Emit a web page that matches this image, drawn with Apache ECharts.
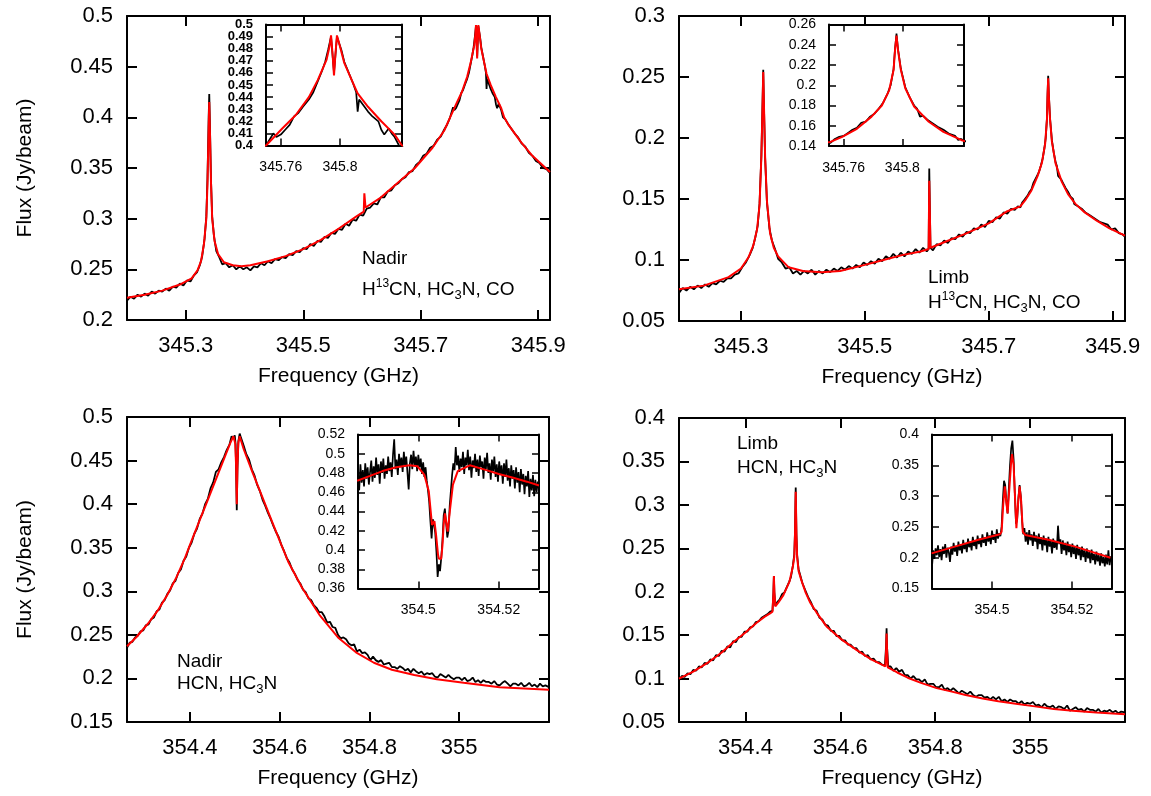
<!DOCTYPE html>
<html><head><meta charset="utf-8">
<script src="https://cdn.jsdelivr.net/npm/echarts@6/dist/echarts.min.js"></script>
<style>html,body{margin:0;padding:0;background:#fff}#c{width:1151px;height:796px}</style>
</head><body><div id="c"></div>
<script>
// ---------- tick positions ----------
const coTicks = [345.3, 345.5, 345.7, 345.9];
const coInsetTicks = [345.76, 345.8];
const hcnTicks = [354.4, 354.6, 354.8, 355];
const hcnInsetTicks = [354.5, 354.52];
const coInsetYLabelsA = [0.4, 0.42, 0.44, 0.46, 0.48, 0.5];
const coInsetYLabelsB = [0.41, 0.43, 0.45, 0.47, 0.49];

// ---------- Nadir, H13CN / HC3N / CO (frequency GHz, flux Jy/beam) ----------
const coNadirFit = [[345.200,0.222],[345.230,0.225],[345.260,0.229],[345.290,0.235],[345.310,0.241],[345.320,0.249],[345.326,0.258],[345.331,0.275],[345.335,0.300],[345.337,0.335],[345.339,0.390],[345.340,0.415],[345.341,0.390],[345.343,0.335],[345.345,0.300],[345.349,0.278],[345.355,0.265],[345.365,0.257],[345.380,0.254],[345.395,0.253],[345.410,0.254],[345.440,0.258],[345.470,0.263],[345.500,0.270],[345.530,0.279],[345.560,0.290],[345.590,0.302],[345.603,0.307],[345.604,0.325],[345.606,0.311],[345.630,0.320],[345.660,0.335],[345.690,0.350],[345.720,0.370],[345.740,0.387],[345.750,0.400],[345.761,0.414],[345.770,0.425],[345.779,0.440],[345.785,0.454],[345.791,0.471],[345.793,0.482],[345.794,0.491],[345.795,0.476],[345.796,0.458],[345.797,0.476],[345.798,0.491],[345.800,0.482],[345.803,0.468],[345.808,0.454],[345.812,0.443],[345.819,0.432],[345.828,0.420],[345.837,0.409],[345.842,0.400],[345.850,0.392],[345.870,0.376],[345.890,0.362],[345.920,0.346]];
const coNadirObs = [[345.200,0.219],[345.206,0.223],[345.212,0.221],[345.218,0.225],[345.224,0.223],[345.230,0.226],[345.236,0.224],[345.242,0.228],[345.248,0.226],[345.254,0.229],[345.260,0.228],[345.266,0.231],[345.272,0.229],[345.278,0.233],[345.284,0.232],[345.290,0.236],[345.296,0.234],[345.302,0.239],[345.308,0.238],[345.314,0.244],[345.319,0.247],[345.324,0.254],[345.328,0.263],[345.332,0.280],[345.335,0.302],[345.337,0.340],[345.339,0.400],[345.340,0.423],[345.341,0.398],[345.343,0.338],[345.345,0.302],[345.348,0.283],[345.352,0.268],[345.357,0.262],[345.362,0.255],[345.368,0.256],[345.374,0.252],[345.380,0.254],[345.386,0.250],[345.392,0.253],[345.398,0.250],[345.404,0.252],[345.410,0.249],[345.416,0.253],[345.422,0.252],[345.428,0.256],[345.434,0.254],[345.440,0.258],[345.446,0.256],[345.452,0.260],[345.458,0.259],[345.464,0.262],[345.470,0.261],[345.476,0.265],[345.482,0.264],[345.488,0.268],[345.494,0.267],[345.500,0.271],[345.506,0.270],[345.512,0.275],[345.518,0.273],[345.524,0.278],[345.530,0.277],[345.536,0.282],[345.542,0.281],[345.548,0.286],[345.554,0.285],[345.560,0.290],[345.566,0.289],[345.572,0.295],[345.578,0.293],[345.584,0.299],[345.590,0.298],[345.596,0.304],[345.602,0.303],[345.608,0.310],[345.614,0.311],[345.620,0.315],[345.626,0.314],[345.632,0.321],[345.638,0.321],[345.644,0.327],[345.650,0.328],[345.656,0.333],[345.662,0.335],[345.668,0.339],[345.674,0.341],[345.680,0.346],[345.686,0.347],[345.692,0.353],[345.698,0.356],[345.704,0.362],[345.710,0.364],[345.716,0.370],[345.722,0.372],[345.728,0.378],[345.734,0.381],[345.740,0.388],[345.745,0.393],[345.750,0.400],[345.753,0.406],[345.755,0.410],[345.757,0.407],[345.760,0.409],[345.763,0.413],[345.766,0.417],[345.769,0.424],[345.772,0.427],[345.775,0.432],[345.779,0.438],[345.782,0.444],[345.785,0.453],[345.788,0.462],[345.790,0.469],[345.792,0.479],[345.794,0.490],[345.796,0.460],[345.798,0.490],[345.801,0.479],[345.803,0.469],[345.806,0.460],[345.809,0.451],[345.811,0.444],[345.812,0.428],[345.813,0.438],[345.816,0.433],[345.819,0.428],[345.822,0.424],[345.826,0.420],[345.828,0.413],[345.830,0.409],[345.833,0.414],[345.835,0.410],[345.837,0.407],[345.840,0.400],[345.844,0.398],[345.848,0.394],[345.854,0.389],[345.860,0.384],[345.866,0.380],[345.872,0.374],[345.878,0.371],[345.884,0.365],[345.890,0.362],[345.896,0.357],[345.902,0.355],[345.908,0.350],[345.914,0.349],[345.920,0.345]];

// ---------- Limb, H13CN / HC3N / CO ----------
const coLimbFit = [[345.200,0.076],[345.240,0.079],[345.280,0.086],[345.300,0.093],[345.312,0.102],[345.320,0.112],[345.326,0.125],[345.330,0.145],[345.333,0.185],[345.335,0.230],[345.336,0.254],[345.337,0.230],[345.339,0.185],[345.342,0.148],[345.347,0.122],[345.353,0.110],[345.360,0.103],[345.377,0.094],[345.400,0.091],[345.430,0.090],[345.460,0.091],[345.500,0.096],[345.530,0.100],[345.560,0.104],[345.590,0.107],[345.603,0.109],[345.604,0.165],[345.605,0.165],[345.606,0.110],[345.630,0.115],[345.660,0.121],[345.700,0.130],[345.730,0.140],[345.751,0.144],[345.759,0.149],[345.769,0.157],[345.779,0.169],[345.786,0.180],[345.791,0.195],[345.794,0.215],[345.795,0.235],[345.796,0.249],[345.797,0.235],[345.799,0.215],[345.802,0.197],[345.808,0.179],[345.818,0.164],[345.828,0.154],[345.840,0.146],[345.855,0.139],[345.875,0.132],[345.895,0.126],[345.920,0.120]];
const coLimbObs = [[345.200,0.073],[345.206,0.077],[345.212,0.075],[345.218,0.078],[345.224,0.076],[345.230,0.079],[345.236,0.077],[345.242,0.080],[345.248,0.078],[345.254,0.081],[345.260,0.080],[345.266,0.083],[345.272,0.082],[345.278,0.085],[345.284,0.085],[345.290,0.088],[345.296,0.089],[345.302,0.094],[345.308,0.098],[345.314,0.104],[345.319,0.110],[345.323,0.118],[345.327,0.128],[345.330,0.146],[345.333,0.186],[345.335,0.232],[345.336,0.256],[345.337,0.230],[345.339,0.184],[345.342,0.147],[345.346,0.126],[345.350,0.116],[345.355,0.109],[345.360,0.101],[345.366,0.098],[345.372,0.093],[345.378,0.094],[345.384,0.089],[345.390,0.091],[345.396,0.088],[345.402,0.091],[345.408,0.089],[345.414,0.092],[345.420,0.088],[345.426,0.091],[345.432,0.089],[345.438,0.092],[345.444,0.090],[345.450,0.093],[345.456,0.091],[345.462,0.094],[345.468,0.092],[345.474,0.095],[345.480,0.093],[345.486,0.096],[345.492,0.094],[345.498,0.098],[345.504,0.096],[345.510,0.099],[345.516,0.097],[345.522,0.101],[345.528,0.099],[345.534,0.103],[345.540,0.101],[345.546,0.105],[345.552,0.102],[345.558,0.106],[345.564,0.103],[345.570,0.107],[345.576,0.105],[345.582,0.109],[345.588,0.106],[345.594,0.110],[345.600,0.107],[345.603,0.109],[345.604,0.175],[345.605,0.175],[345.606,0.110],[345.610,0.108],[345.616,0.113],[345.622,0.112],[345.628,0.116],[345.634,0.114],[345.640,0.118],[345.646,0.117],[345.652,0.121],[345.658,0.119],[345.664,0.123],[345.670,0.122],[345.676,0.126],[345.682,0.125],[345.688,0.129],[345.694,0.127],[345.700,0.132],[345.706,0.131],[345.712,0.135],[345.718,0.134],[345.724,0.139],[345.730,0.138],[345.736,0.142],[345.742,0.141],[345.747,0.144],[345.751,0.143],[345.754,0.147],[345.757,0.149],[345.760,0.150],[345.763,0.153],[345.766,0.156],[345.769,0.158],[345.772,0.163],[345.775,0.164],[345.778,0.169],[345.781,0.172],[345.784,0.177],[345.787,0.183],[345.790,0.192],[345.792,0.200],[345.794,0.216],[345.795,0.236],[345.796,0.251],[345.797,0.236],[345.799,0.216],[345.802,0.198],[345.805,0.188],[345.808,0.180],[345.810,0.177],[345.812,0.169],[345.814,0.170],[345.817,0.166],[345.820,0.163],[345.824,0.159],[345.828,0.156],[345.832,0.152],[345.836,0.150],[345.838,0.146],[345.840,0.147],[345.844,0.144],[345.850,0.142],[345.856,0.139],[345.862,0.137],[345.868,0.135],[345.874,0.133],[345.880,0.131],[345.886,0.130],[345.892,0.129],[345.898,0.125],[345.904,0.126],[345.910,0.122],[345.916,0.121],[345.920,0.119]];

// ---------- Nadir, HCN / HC3N ----------
const hcnNadirFit = [[354.260,0.237],[354.280,0.247],[354.307,0.263],[354.330,0.279],[354.350,0.296],[354.370,0.316],[354.389,0.338],[354.400,0.353],[354.420,0.379],[354.440,0.405],[354.460,0.431],[354.480,0.457],[354.490,0.470],[354.497,0.478],[354.501,0.470],[354.503,0.445],[354.5045,0.400],[354.506,0.445],[354.508,0.470],[354.511,0.478],[354.520,0.463],[354.540,0.436],[354.560,0.410],[354.580,0.384],[354.600,0.358],[354.620,0.333],[354.650,0.304],[354.690,0.272],[354.730,0.247],[354.770,0.230],[354.810,0.218],[354.850,0.210],[354.900,0.204],[354.950,0.199],[355.010,0.195],[355.090,0.190],[355.200,0.187]];
const hcnNadirObs = [[354.260,0.235],[354.266,0.241],[354.272,0.242],[354.278,0.247],[354.284,0.249],[354.290,0.254],[354.296,0.255],[354.302,0.261],[354.308,0.262],[354.314,0.268],[354.320,0.270],[354.326,0.277],[354.332,0.279],[354.338,0.287],[354.344,0.290],[354.350,0.297],[354.356,0.301],[354.362,0.309],[354.368,0.312],[354.374,0.321],[354.380,0.325],[354.386,0.335],[354.392,0.340],[354.398,0.350],[354.404,0.356],[354.410,0.366],[354.416,0.372],[354.422,0.383],[354.428,0.389],[354.434,0.400],[354.440,0.406],[354.446,0.418],[354.452,0.425],[354.458,0.437],[354.464,0.440],[354.470,0.448],[354.476,0.454],[354.482,0.462],[354.488,0.468],[354.493,0.478],[354.497,0.475],[354.500,0.479],[354.502,0.468],[354.503,0.440],[354.5045,0.393],[354.506,0.440],[354.508,0.472],[354.511,0.481],[354.514,0.476],[354.520,0.467],[354.526,0.457],[354.532,0.451],[354.538,0.440],[354.544,0.433],[354.550,0.422],[354.556,0.415],[354.562,0.405],[354.568,0.398],[354.574,0.390],[354.580,0.383],[354.586,0.375],[354.592,0.368],[354.598,0.362],[354.604,0.353],[354.610,0.346],[354.616,0.338],[354.622,0.333],[354.628,0.325],[354.634,0.320],[354.640,0.313],[354.646,0.309],[354.652,0.302],[354.658,0.299],[354.664,0.292],[354.670,0.290],[354.676,0.284],[354.682,0.281],[354.688,0.276],[354.694,0.276],[354.700,0.271],[354.706,0.264],[354.712,0.265],[354.718,0.259],[354.724,0.258],[354.730,0.250],[354.736,0.246],[354.742,0.247],[354.748,0.245],[354.754,0.240],[354.760,0.238],[354.766,0.239],[354.772,0.231],[354.778,0.233],[354.784,0.229],[354.790,0.230],[354.796,0.227],[354.802,0.221],[354.808,0.225],[354.814,0.221],[354.820,0.219],[354.826,0.221],[354.832,0.216],[354.838,0.217],[354.844,0.218],[354.850,0.213],[354.856,0.213],[354.862,0.211],[354.868,0.214],[354.874,0.212],[354.880,0.209],[354.886,0.211],[354.892,0.207],[354.898,0.211],[354.904,0.208],[354.910,0.206],[354.916,0.208],[354.922,0.204],[354.928,0.206],[354.934,0.205],[354.940,0.206],[354.946,0.202],[354.952,0.201],[354.958,0.205],[354.964,0.203],[354.970,0.201],[354.976,0.204],[354.982,0.201],[354.988,0.199],[354.994,0.201],[355.000,0.201],[355.006,0.198],[355.012,0.201],[355.018,0.197],[355.024,0.198],[355.030,0.201],[355.036,0.196],[355.042,0.198],[355.048,0.195],[355.054,0.198],[355.060,0.196],[355.066,0.196],[355.072,0.194],[355.078,0.197],[355.084,0.193],[355.090,0.192],[355.096,0.195],[355.102,0.197],[355.108,0.194],[355.114,0.191],[355.120,0.194],[355.126,0.194],[355.132,0.192],[355.138,0.195],[355.144,0.191],[355.150,0.192],[355.156,0.195],[355.162,0.191],[355.168,0.193],[355.174,0.190],[355.180,0.194],[355.186,0.191],[355.192,0.192],[355.200,0.190]];

// ---------- Limb, HCN / HC3N ----------
const hcnLimbFit = [[354.260,0.100],[354.290,0.108],[354.320,0.118],[354.350,0.130],[354.375,0.142],[354.400,0.153],[354.423,0.164],[354.440,0.171],[354.452,0.175],[354.457,0.177],[354.459,0.198],[354.460,0.218],[354.461,0.200],[354.463,0.183],[354.470,0.188],[354.480,0.196],[354.493,0.212],[354.500,0.229],[354.503,0.240],[354.5045,0.265],[354.5055,0.300],[354.506,0.315],[354.5065,0.300],[354.5075,0.265],[354.509,0.240],[354.512,0.224],[354.518,0.213],[354.527,0.199],[354.536,0.188],[354.550,0.176],[354.571,0.160],[354.600,0.146],[354.634,0.133],[354.665,0.122],[354.695,0.114],[354.6965,0.133],[354.6975,0.152],[354.6985,0.133],[354.700,0.113],[354.720,0.107],[354.742,0.101],[354.770,0.095],[354.803,0.089],[354.835,0.085],[354.864,0.081],[354.900,0.077],[354.933,0.074],[354.970,0.071],[355.010,0.068],[355.050,0.065],[355.090,0.063],[355.140,0.061],[355.200,0.059]];
const hcnLimbObs = [[354.260,0.098],[354.266,0.103],[354.272,0.102],[354.278,0.106],[354.284,0.105],[354.290,0.110],[354.296,0.109],[354.302,0.114],[354.308,0.113],[354.314,0.118],[354.320,0.117],[354.326,0.122],[354.332,0.121],[354.338,0.127],[354.344,0.126],[354.350,0.132],[354.356,0.131],[354.362,0.137],[354.368,0.136],[354.374,0.143],[354.380,0.142],[354.386,0.148],[354.392,0.148],[354.398,0.154],[354.404,0.154],[354.410,0.159],[354.416,0.160],[354.422,0.165],[354.428,0.166],[354.434,0.170],[354.440,0.172],[354.446,0.174],[354.452,0.177],[354.457,0.178],[354.459,0.199],[354.460,0.218],[354.461,0.199],[354.463,0.184],[354.467,0.188],[354.472,0.191],[354.477,0.197],[354.482,0.199],[354.487,0.205],[354.492,0.211],[354.496,0.217],[354.500,0.230],[354.503,0.243],[354.5045,0.270],[354.5055,0.305],[354.506,0.320],[354.5065,0.302],[354.5075,0.266],[354.509,0.242],[354.512,0.226],[354.516,0.218],[354.520,0.210],[354.526,0.202],[354.532,0.194],[354.538,0.188],[354.544,0.180],[354.550,0.178],[354.556,0.170],[354.562,0.168],[354.568,0.162],[354.574,0.161],[354.580,0.155],[354.586,0.155],[354.592,0.149],[354.598,0.149],[354.604,0.144],[354.610,0.144],[354.616,0.139],[354.622,0.139],[354.628,0.135],[354.634,0.135],[354.640,0.130],[354.646,0.131],[354.652,0.126],[354.658,0.127],[354.664,0.122],[354.670,0.123],[354.676,0.119],[354.682,0.119],[354.688,0.116],[354.694,0.115],[354.6965,0.138],[354.6975,0.158],[354.6985,0.136],[354.701,0.114],[354.706,0.114],[354.712,0.109],[354.718,0.112],[354.724,0.108],[354.730,0.110],[354.736,0.104],[354.742,0.104],[354.748,0.100],[354.754,0.103],[354.760,0.099],[354.766,0.099],[354.772,0.096],[354.778,0.099],[354.784,0.093],[354.790,0.094],[354.796,0.094],[354.802,0.090],[354.808,0.090],[354.814,0.093],[354.820,0.087],[354.826,0.089],[354.832,0.086],[354.838,0.089],[354.844,0.086],[354.850,0.083],[354.856,0.086],[354.862,0.084],[354.868,0.082],[354.874,0.085],[354.880,0.081],[354.886,0.079],[354.892,0.081],[354.898,0.081],[354.904,0.078],[354.910,0.079],[354.916,0.076],[354.922,0.079],[354.928,0.076],[354.934,0.079],[354.940,0.074],[354.946,0.076],[354.952,0.073],[354.958,0.076],[354.964,0.074],[354.970,0.074],[354.976,0.071],[354.982,0.074],[354.988,0.070],[354.994,0.072],[355.000,0.071],[355.006,0.073],[355.012,0.069],[355.018,0.070],[355.024,0.067],[355.030,0.071],[355.036,0.068],[355.042,0.067],[355.048,0.069],[355.054,0.065],[355.060,0.068],[355.066,0.067],[355.072,0.065],[355.078,0.069],[355.084,0.063],[355.090,0.065],[355.096,0.067],[355.102,0.064],[355.108,0.065],[355.114,0.062],[355.120,0.066],[355.126,0.064],[355.132,0.064],[355.138,0.062],[355.144,0.065],[355.150,0.061],[355.156,0.063],[355.162,0.062],[355.168,0.064],[355.174,0.061],[355.180,0.063],[355.186,0.060],[355.192,0.062],[355.200,0.061]];

// ---------- zoomed HCN line core (insets) ----------
const hcnInsetFreq = [354.4850,354.4853,354.4856,354.4859,354.4862,354.4865,354.4868,354.4871,354.4874,354.4877,
354.4880,354.4883,354.4886,354.4889,354.4892,354.4895,354.4898,354.4901,354.4904,354.4907,
354.4910,354.4913,354.4916,354.4919,354.4922,354.4925,354.4928,354.4931,354.4934,354.4937,
354.4940,354.4943,354.4946,354.4949,354.4952,354.4955,354.4958,354.4961,354.4964,354.4967,
354.4970,354.4973,354.4976,354.4979,354.4982,354.4985,354.4988,354.4991,354.4994,354.4997,
354.5000,354.5003,354.5006,354.5009,354.5012,354.5015,354.5018,354.5021,354.5024,354.5027,
354.5030,354.5033,354.5036,354.5039,354.5042,354.5045,354.5048,354.5051,354.5054,354.5057,
354.5060,354.5063,354.5066,354.5069,354.5072,354.5075,354.5078,354.5081,354.5084,354.5087,
354.5090,354.5093,354.5096,354.5099,354.5102,354.5105,354.5108,354.5111,354.5114,354.5117,
354.5120,354.5123,354.5126,354.5129,354.5132,354.5135,354.5138,354.5141,354.5144,354.5147,
354.5150,354.5153,354.5156,354.5159,354.5162,354.5165,354.5168,354.5171,354.5174,354.5177,
354.5180,354.5183,354.5186,354.5189,354.5192,354.5195,354.5198,354.5201,354.5204,354.5207,
354.5210,354.5213,354.5216,354.5219,354.5222,354.5225,354.5228,354.5231,354.5234,354.5237,
354.5240,354.5243,354.5246,354.5249,354.5252,354.5255,354.5258,354.5261,354.5264,354.5267,
354.5270,354.5273,354.5276,354.5279,354.5282,354.5285,354.5288,354.5291,354.5294,354.5297,
354.5300];
const hcnNadirInsetObs = [0.478,0.462,0.489,0.470,0.483,0.466,0.490,0.474,0.486,0.468,
0.481,0.493,0.471,0.487,0.475,0.496,0.478,0.489,0.469,0.492,
0.480,0.495,0.474,0.488,0.479,0.497,0.482,0.491,0.476,0.499,
0.515,0.484,0.494,0.478,0.500,0.486,0.496,0.481,0.502,0.487,
0.497,0.480,0.463,0.490,0.499,0.484,0.503,0.488,0.497,0.482,
0.499,0.486,0.495,0.479,0.491,0.476,0.486,0.472,0.462,0.450,
0.430,0.412,0.432,0.426,0.418,0.398,0.372,0.385,0.378,0.392,
0.410,0.436,0.443,0.428,0.413,0.420,0.446,0.462,0.478,0.490,
0.483,0.507,0.488,0.498,0.481,0.495,0.486,0.502,0.479,0.496,
0.488,0.504,0.483,0.497,0.475,0.493,0.485,0.500,0.481,0.494,
0.477,0.498,0.486,0.492,0.474,0.496,0.484,0.501,0.480,0.490,
0.473,0.494,0.482,0.497,0.476,0.489,0.471,0.492,0.479,0.488,
0.469,0.490,0.476,0.494,0.472,0.485,0.466,0.488,0.474,0.483,
0.464,0.486,0.470,0.481,0.460,0.484,0.468,0.479,0.458,0.477,
0.466,0.482,0.455,0.474,0.462,0.478,0.456,0.473,0.460,0.471,
0.463];
const hcnNadirInsetFit = [[354.4848,0.472],[354.4880,0.477],[354.4911,0.482],[354.4945,0.486],[354.4978,0.488],[354.4998,0.487],[354.5015,0.478],[354.5026,0.461],[354.5034,0.426],[354.5040,0.430],[354.5044,0.416],[354.5049,0.395],[354.5051,0.391],[354.5057,0.391],[354.5060,0.405],[354.5063,0.426],[354.5066,0.438],[354.5069,0.430],[354.5073,0.419],[354.5079,0.443],[354.5086,0.468],[354.5098,0.482],[354.5128,0.488],[354.5169,0.483],[354.5200,0.479],[354.5236,0.475],[354.5270,0.471],[354.5300,0.467]];
const hcnLimbInsetObs = [0.185,0.212,0.198,0.215,0.204,0.220,0.201,0.214,0.196,0.218,
0.206,0.222,0.200,0.216,0.209,0.193,0.218,0.205,0.224,0.210,
0.219,0.203,0.226,0.212,0.221,0.207,0.229,0.214,0.223,0.209,
0.231,0.217,0.226,0.212,0.234,0.219,0.228,0.214,0.236,0.222,
0.231,0.217,0.238,0.224,0.233,0.219,0.241,0.226,0.236,0.222,
0.244,0.229,0.238,0.224,0.246,0.231,0.240,0.235,0.250,0.292,
0.325,0.318,0.290,0.272,0.312,0.350,0.378,0.390,0.360,0.305,
0.255,0.262,0.298,0.318,0.300,0.262,0.238,0.248,0.226,0.241,
0.221,0.245,0.228,0.238,0.219,0.242,0.226,0.236,0.214,0.239,
0.222,0.233,0.212,0.236,0.220,0.231,0.209,0.234,0.218,0.229,
0.207,0.231,0.216,0.227,0.213,0.252,0.222,0.230,0.206,0.228,
0.212,0.224,0.204,0.226,0.209,0.221,0.201,0.223,0.206,0.218,
0.198,0.221,0.204,0.215,0.196,0.218,0.201,0.212,0.193,0.215,
0.199,0.209,0.191,0.213,0.196,0.206,0.189,0.210,0.194,0.204,
0.187,0.207,0.191,0.201,0.186,0.205,0.189,0.212,0.188,0.202,
0.196];
const hcnLimbInsetFit = [[354.4849,0.207],[354.4907,0.218],[354.4966,0.229],[354.5020,0.238],[354.5024,0.242],[354.5028,0.286],[354.5032,0.316],[354.5036,0.289],[354.5039,0.272],[354.5044,0.318],[354.5048,0.357],[354.5050,0.368],[354.5054,0.351],[354.5058,0.291],[354.5061,0.248],[354.5065,0.286],[354.5069,0.316],[354.5073,0.291],[354.5077,0.242],[354.5083,0.237],[354.5141,0.229],[354.5208,0.218],[354.5296,0.200]];

// ---------- build ----------
const FONT = '"Liberation Sans", Arial, Helvetica, sans-serif';
const fmt = v => String(parseFloat((+v).toFixed(3)));
const pair = (xs, ys) => xs.map((x, k) => [x, ys[k]]);

const MAIN = {fsX: 22, fsY: 22, xm: 15, ym: 14, lw: 2, tl: 10, tw: 2, bw: 1.8, yBold: 'normal'};
const INSET = {fsX: 14, fsY: 14, xm: 15, ym: 13, lw: 2, tl: 7, tw: 1.5, bw: 1.7, yBold: 'normal'};

const panels = [
  Object.assign({}, MAIN, {grid:{left:127,top:16,width:423,height:304}, xMin:345.2, xMax:345.92, ticks:coTicks, yMin:0.2, yMax:0.5, yInt:0.05, obs:coNadirObs, fit:coNadirFit, yName:'Flux (Jy/beam)', xName:'Frequency (GHz)'}),
  Object.assign({}, MAIN, {grid:{left:679,top:16,width:446,height:305}, xMin:345.2, xMax:345.92, ticks:coTicks, yMin:0.05, yMax:0.3, yInt:0.05, obs:coLimbObs, fit:coLimbFit, yName:'', xName:'Frequency (GHz)'}),
  Object.assign({}, MAIN, {grid:{left:127,top:417,width:422,height:305}, xMin:354.26, xMax:355.2, ticks:hcnTicks, yMin:0.15, yMax:0.5, yInt:0.05, obs:hcnNadirObs, fit:hcnNadirFit, yName:'Flux (Jy/beam)', xName:'Frequency (GHz)'}),
  Object.assign({}, MAIN, {grid:{left:679,top:418,width:446,height:304}, xMin:354.26, xMax:355.2, ticks:hcnTicks, yMin:0.05, yMax:0.4, yInt:0.05, obs:hcnLimbObs, fit:hcnLimbFit, yName:'', xName:'Frequency (GHz)'}),
  Object.assign({}, INSET, {fsY:13, yBold:'bold', ySets:[coInsetYLabelsA, coInsetYLabelsB], grid:{left:266,top:24.5,width:136,height:121}, xMin:345.75, xMax:345.842, ticks:coInsetTicks, yMin:0.4, yMax:0.5, yInt:0.01, obs:coNadirObs, fit:coNadirFit}),
  Object.assign({}, INSET, {grid:{left:829,top:24.5,width:135,height:121.5}, xMin:345.75, xMax:345.842, ticks:coInsetTicks, yMin:0.14, yMax:0.26, yInt:0.02, obs:coLimbObs, fit:coLimbFit}),
  Object.assign({}, INSET, {grid:{left:358,top:434.5,width:181,height:154}, xMin:354.485, xMax:354.53, ticks:hcnInsetTicks, yMin:0.36, yMax:0.52, yInt:0.02, obs:pair(hcnInsetFreq, hcnNadirInsetObs), fit:hcnNadirInsetFit}),
  Object.assign({}, INSET, {grid:{left:932,top:434.5,width:180,height:154}, xMin:354.485, xMax:354.53, ticks:hcnInsetTicks, yMin:0.15, yMax:0.4, yInt:0.05, obs:pair(hcnInsetFreq, hcnLimbInsetObs), fit:hcnLimbInsetFit})
];

const grids = [], xAxes = [], yAxes = [], series = [];
panels.forEach((p, i) => {
  grids.push(Object.assign({show:false}, p.grid));
  const line = {show:true, onZero:false, lineStyle:{color:'#000', width:p.lw}};
  const tick = {show:true, inside:true, length:p.tl, lineStyle:{color:'#000', width:p.tw}};
  const xi = xAxes.length, yi = yAxes.length;
  xAxes.push({type:'value', gridIndex:i, position:'bottom', min:p.xMin, max:p.xMax,
    splitLine:{show:false}, axisLine:line, axisTick:Object.assign({customValues:p.ticks}, tick),
    axisLabel:{customValues:p.ticks, formatter:fmt, fontSize:p.fsX, margin:p.xm, color:'#000', fontFamily:FONT},
    name:p.xName || '', nameLocation:'middle', nameGap:46,
    nameTextStyle:{fontSize:21, color:'#000', fontFamily:FONT}});
  xAxes.push({type:'value', gridIndex:i, position:'top', min:p.xMin, max:p.xMax,
    splitLine:{show:false}, axisLine:line, axisTick:Object.assign({customValues:p.ticks}, tick),
    axisLabel:{show:false}});
  const labelBase = {formatter:fmt, fontSize:p.fsY, fontWeight:p.yBold, margin:p.ym, color:'#000', fontFamily:FONT,
      showMinLabel:true, showMaxLabel:true};
  const yLabel = Object.assign({}, labelBase, p.ySets ? {customValues:p.ySets[0]} : {});
  yAxes.push({type:'value', gridIndex:i, position:'left', min:p.yMin, max:p.yMax, interval:p.yInt,
    splitLine:{show:false}, axisLine:line, axisTick:tick, axisLabel:yLabel,
    name:p.yName || '', nameLocation:'middle', nameGap:91,
    nameTextStyle:{fontSize:21, color:'#000', fontFamily:FONT}});
  yAxes.push({type:'value', gridIndex:i, position:'right', min:p.yMin, max:p.yMax, interval:p.yInt,
    splitLine:{show:false}, axisLine:line, axisTick:tick, axisLabel:{show:false}});
  if (p.ySets) {
    // second label row (odd values) so closely spaced labels are not dropped
    yAxes.push({type:'value', gridIndex:i, position:'left', min:p.yMin, max:p.yMax, interval:p.yInt,
      splitLine:{show:false}, axisLine:{show:false}, axisTick:{show:false},
      axisLabel:Object.assign({}, labelBase, {customValues:p.ySets[1]})});
  }
  series.push({type:'line', xAxisIndex:xi, yAxisIndex:yi, data:p.obs, symbol:'none', showSymbol:false,
    lineStyle:{color:'#000', width:p.bw}, silent:true, z:2});
  series.push({type:'line', xAxisIndex:xi, yAxisIndex:yi, data:p.fit, symbol:'none', showSymbol:false,
    lineStyle:{color:'#ff0000', width:2}, silent:true, z:3});
});

const rich = {
  a:{fontSize:19, fontFamily:FONT, lineHeight:24, color:'#000'},
  sup:{fontSize:12, fontFamily:FONT, lineHeight:12, verticalAlign:'top', color:'#000'},
  sub:{fontSize:13, fontFamily:FONT, lineHeight:13, verticalAlign:'bottom', color:'#000'}
};
const notes = [
  {x:362, y:259, t:'{a|Nadir}'},
  {x:362, y:290, t:'{a|H}{sup|13}{a|CN, HC}{sub|3}{a|N, CO}'},
  {x:928, y:278, t:'{a|Limb}'},
  {x:928, y:303, t:'{a|H}{sup|13}{a|CN, HC}{sub|3}{a|N, CO}'},
  {x:177, y:662, t:'{a|Nadir}'},
  {x:177, y:684, t:'{a|HCN, HC}{sub|3}{a|N}'},
  {x:737, y:444, t:'{a|Limb}'},
  {x:737, y:468, t:'{a|HCN, HC}{sub|3}{a|N}'}
];
const graphic = notes.map(n => ({type:'text', x:n.x, y:n.y, silent:true, z:100,
  style:{text:n.t, rich:rich, align:'left', verticalAlign:'middle', fill:'#000', fontSize:19, fontFamily:FONT}}));

const chart = echarts.init(document.getElementById('c'), null, {renderer:'canvas'});
chart.setOption({
  animation:false, backgroundColor:'#fff',
  textStyle:{fontFamily:FONT, color:'#000'},
  grid:grids, xAxis:xAxes, yAxis:yAxes, series:series, graphic:graphic
});
</script></body></html>
